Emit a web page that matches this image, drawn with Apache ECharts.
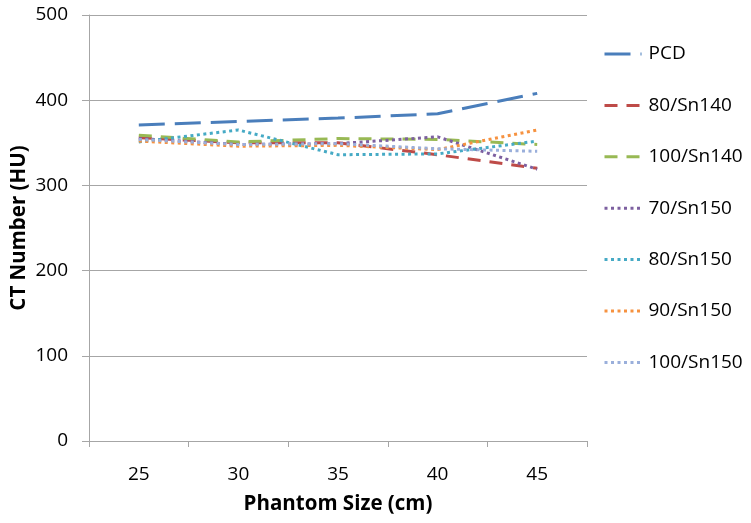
<!DOCTYPE html>
<html><head><meta charset="utf-8">
<script src="https://cdn.jsdelivr.net/npm/echarts@6/dist/echarts.min.js"></script>
<style>html,body{margin:0;padding:0;background:#fff}#c{width:751px;height:523px}</style>
</head><body><div id="c"></div>
<script>
const categories = ['25', '30', '35', '40', '45'];
const seriesNames = ['PCD', '80/Sn140', '100/Sn140', '70/Sn150', '80/Sn150', '90/Sn150', '100/Sn150'];
const pcd = [371, 375, 379, 384, 408];
const s80Sn140 = [356, 350, 350, 336, 320];
const s100Sn140 = [359, 351, 355, 354, 348];
const s70Sn150 = [355, 348, 349, 357, 319];
const s80Sn150 = [351, 365, 336, 337, 352];
const s90Sn150 = [352, 346, 347, 342, 365];
const s100Sn150 = [354, 348, 349, 343, 340];
const yTicks = [0, 100, 200, 300, 400, 500];

const font = 'Open Sans';
const styles = [
  { color: '#4A7EBB', dash: [26, 10] },
  { color: '#BE4B48', dash: [13, 9] },
  { color: '#98B954', dash: [13, 9] },
  { color: '#7D60A0', dash: [3, 3.5] },
  { color: '#46AAC5', dash: [3, 3.5] },
  { color: '#F69240', dash: [3, 3.5] },
  { color: '#9AAFDB', dash: [3, 3.5] }
];
const values = [pcd, s80Sn140, s100Sn140, s70Sn150, s80Sn150, s90Sn150, s100Sn150];

const chart = echarts.init(document.getElementById('c'), null, { renderer: 'canvas' });
chart.setOption({
  animation: false,
  backgroundColor: '#fff',
  textStyle: { fontFamily: font },
  grid: { left: 89, right: 164, top: 15, bottom: 82, containLabel: false, outerBoundsMode: 'none' },
  legend: {
    orient: 'vertical', left: 603, top: 44, padding: 0,
    itemWidth: 37, itemHeight: 14, itemGap: 31.4,
    textStyle: { fontFamily: font, fontSize: 19, lineHeight: 20, color: '#000', padding: [0, 0, 0, 2] },
    data: seriesNames.map((n, i) => ({
      name: n,
      itemStyle: { opacity: 0 },
      lineStyle: { color: styles[i].color, width: 3, type: styles[i].dash, opacity: 1 }
    }))
  },
  xAxis: {
    type: 'category', data: categories, boundaryGap: true,
    name: 'Phantom Size (cm)', nameLocation: 'middle', nameGap: 53, nameMoveOverlap: false,
    nameTextStyle: { fontFamily: font, fontSize: 20.5, fontWeight: 'bold', color: '#000' },
    axisLine: { lineStyle: { color: '#a6a6a6', width: 1 } },
    axisTick: { show: true, length: 6, lineStyle: { color: '#a6a6a6' } },
    axisLabel: { fontFamily: font, fontSize: 19, color: '#000', margin: 24 }
  },
  yAxis: {
    type: 'value', min: yTicks[0], max: yTicks[yTicks.length - 1], interval: 100,
    name: 'CT Number (HU)', nameLocation: 'middle', nameGap: 59, nameMoveOverlap: false,
    nameTextStyle: { fontFamily: font, fontSize: 20.5, fontWeight: 'bold', color: '#000' },
    axisLine: { show: true, lineStyle: { color: '#a6a6a6', width: 1 } },
    axisTick: { show: true, length: 7, inside: false, lineStyle: { color: '#a6a6a6' } },
    axisLabel: { fontFamily: font, fontSize: 19, color: '#000', margin: 21 },
    splitLine: { show: true, lineStyle: { color: '#a6a6a6', width: 1 } }
  },
  series: seriesNames.map((n, i) => ({
    name: n, type: 'line', data: values[i], symbol: 'none', smooth: false,
    lineStyle: { color: styles[i].color, width: 3, type: styles[i].dash, cap: 'butt' },
    itemStyle: { color: styles[i].color }
  }))
});
</script></body></html>
